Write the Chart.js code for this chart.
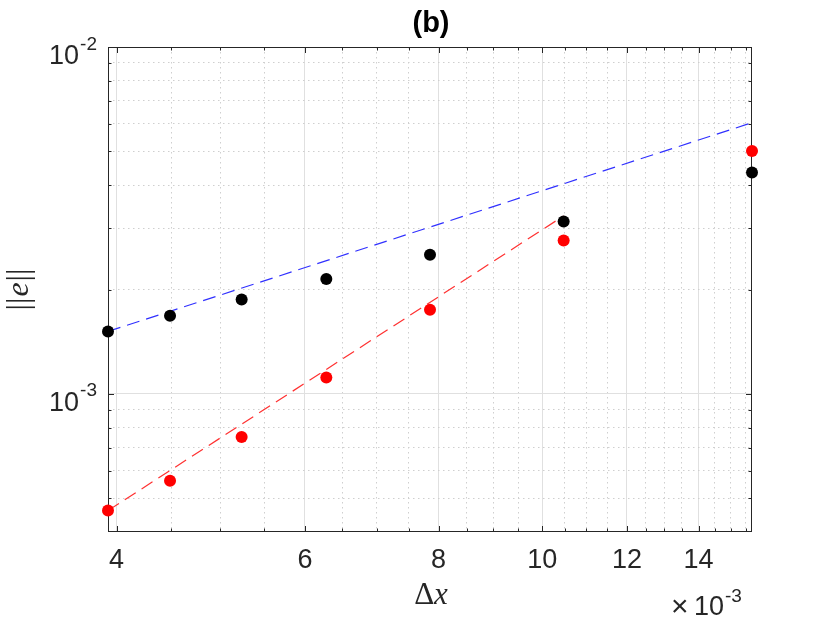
<!DOCTYPE html>
<html>
<head>
<meta charset="utf-8">
<title>(b)</title>
<script src="https://cdn.jsdelivr.net/npm/chart.js@4.4.1/dist/chart.umd.min.js"></script>
<style>
  html, body { margin: 0; padding: 0; background: #fff; }
  #wrap { width: 830px; height: 623px; }
</style>
</head>
<body>
<div id="wrap"><canvas id="errChart" width="830" height="623"></canvas></div>
<script>
// grid spacing (dx = 2*pi/N, N = 1600 ... 400) and measured errors
const dx = [0.003927, 0.004488, 0.005236, 0.006283, 0.007854, 0.010472, 0.015708];
const errBlack = [1.514e-3, 1.680e-3, 1.873e-3, 2.144e-3, 2.519e-3, 3.141e-3, 4.345e-3];
const errRed = [4.61e-4, 5.62e-4, 7.52e-4, 1.116e-3, 1.748e-3, 2.770e-3, 5.018e-3];

// reference slopes (first and second order), end points only
const refFirstX = [0.003927, 0.015708];
const refFirstY = [1.514e-3, 6.05e-3];
const refSecondX = [0.003927, 0.010472];
const refSecondY = [4.61e-4, 3.26e-3];

// ticks, x in units of 1e-3
const xTickValues = [4, 4.5, 5, 5.5, 6, 6.5, 7, 7.5, 8, 8.5, 9, 9.5, 10, 10.5, 11, 11.5, 12, 12.5, 13, 13.5, 14, 14.5, 15, 15.5];
const xTickLabels = ['4', '6', '8', '10', '12', '14'];
const yTickValues = [5e-4, 6e-4, 7e-4, 8e-4, 9e-4, 1e-3, 2e-3, 3e-3, 4e-3, 5e-3, 6e-3, 7e-3, 8e-3, 9e-3, 1e-2];
const yMajorValues = [1e-3, 1e-2];

const AXIS_COLOR = '#262626';
const SANS = '"Liberation Sans", Arial, Helvetica, sans-serif';
const SERIF = '"Liberation Serif", "DejaVu Serif", serif';

const toPoints = (xs, ys) => xs.map((v, i) => ({ x: v, y: ys[i] }));
const xIsMajor = v => xTickLabels.includes(String(Math.round(v * 1e4) / 10));
const yIsMajor = v => yMajorValues.some(m => Math.abs(m - v) / m < 1e-6);

function gridColor(isMajor) {
  return ctx => (ctx.tick && isMajor(ctx.tick.value)) ? '#e0e0e0' : '#cfcfcf';
}
function gridDash(isMajor) {
  return ctx => (ctx.tick && !isMajor(ctx.tick.value)) ? [1.5, 3.5] : [];
}

const matlabAxes = {
  id: 'matlabAxes',
  beforeDatasetsDraw(chart) {
    const { ctx, chartArea: a, scales: { x, y } } = chart;
    ctx.save();
    ctx.strokeStyle = AXIS_COLOR;
    ctx.lineWidth = 1;
    ctx.beginPath();
    x.ticks.forEach(t => {
      const px = Math.round(x.getPixelForValue(t.value)) + 0.5;
      const len = xIsMajor(t.value) ? 6 : 3.5;
      ctx.moveTo(px, a.bottom); ctx.lineTo(px, a.bottom - len);
      ctx.moveTo(px, a.top); ctx.lineTo(px, a.top + len);
    });
    y.ticks.forEach(t => {
      const py = Math.round(y.getPixelForValue(t.value)) + 0.5;
      const len = yIsMajor(t.value) ? 6 : 3.5;
      ctx.moveTo(a.left, py); ctx.lineTo(a.left + len, py);
      ctx.moveTo(a.right, py); ctx.lineTo(a.right - len, py);
    });
    ctx.stroke();
    ctx.strokeRect(Math.round(a.left) + 0.5, Math.round(a.top) + 0.5,
      Math.round(a.right - a.left) - 1, Math.round(a.bottom - a.top) - 1);
    ctx.restore();
  },
  afterDraw(chart) {
    const { ctx, chartArea: a, scales: { y } } = chart;
    ctx.save();
    ctx.fillStyle = AXIS_COLOR;
    ctx.textBaseline = 'alphabetic';

    // y tick labels 10^n
    y.ticks.filter(t => yIsMajor(t.value)).forEach(t => {
      const py = y.getPixelForValue(t.value);
      const exp = String(Math.round(Math.log10(t.value)));
      ctx.font = '19px ' + SANS;
      ctx.textAlign = 'right';
      const right = a.left - 11;
      ctx.fillText(exp, right, py + 2.5);
      const w = ctx.measureText(exp).width;
      ctx.font = '27px ' + SANS;
      ctx.fillText('10', right - w - 1, py + 16.7);
    });

    // exponent note under x axis
    ctx.textAlign = 'left';
    ctx.font = '30px ' + SANS;
    ctx.fillText('\u00d7', 671, 616);
    ctx.font = '27px ' + SANS;
    ctx.fillText('10', 694, 615);
    ctx.font = '19px ' + SANS;
    ctx.fillText('-3', 725, 601.5);

    // title
    ctx.fillStyle = '#000';
    ctx.textAlign = 'center';
    ctx.font = 'bold 29px ' + SANS;
    ctx.fillText('(b)', 431, 32);

    // x label: Delta x
    ctx.fillStyle = AXIS_COLOR;
    ctx.textAlign = 'left';
    ctx.font = '31px ' + SERIF;
    const dW = ctx.measureText('\u0394').width;
    ctx.font = 'italic 31px ' + SERIF;
    const xW = ctx.measureText('x').width;
    const x0 = 431 - (dW + xW) / 2;
    ctx.font = '31px ' + SERIF;
    ctx.fillText('\u0394', x0, 604);
    ctx.font = 'italic 31px ' + SERIF;
    ctx.fillText('x', x0 + dW, 604);

    // y label: ||e||
    ctx.translate(28, (a.top + a.bottom) / 2);
    ctx.rotate(-Math.PI / 2);
    ctx.font = '32px ' + SERIF;
    const barW = ctx.measureText('||').width;
    ctx.font = 'italic 32px ' + SERIF;
    const eW = ctx.measureText('e').width;
    let cx = -(2 * barW + eW + 2) / 2;
    ctx.font = '32px ' + SERIF;
    ctx.fillText('||', cx, 0);
    cx += barW + 1;
    ctx.font = 'italic 32px ' + SERIF;
    ctx.fillText('e', cx, 0);
    cx += eW + 1;
    ctx.font = '32px ' + SERIF;
    ctx.fillText('||', cx, 0);
    ctx.restore();
  }
};

new Chart(document.getElementById('errChart'), {
  type: 'scatter',
  data: {
    datasets: [
      {
        label: 'error (red)',
        data: toPoints(dx, errRed),
        pointRadius: 6,
        pointHoverRadius: 6,
        pointBorderWidth: 0,
        pointBackgroundColor: '#ff0000',
        clip: false
      },
      {
        label: 'error (black)',
        data: toPoints(dx, errBlack),
        pointRadius: 6,
        pointHoverRadius: 6,
        pointBorderWidth: 0,
        pointBackgroundColor: '#000000',
        clip: false
      },
      {
        label: 'second order',
        data: toPoints(refSecondX, refSecondY),
        showLine: true,
        pointRadius: 0,
        borderColor: '#ff3030',
        borderWidth: 1.2,
        borderDash: [13, 7]
      },
      {
        label: 'first order',
        data: toPoints(refFirstX, refFirstY),
        showLine: true,
        pointRadius: 0,
        borderColor: '#3030ff',
        borderWidth: 1.2,
        borderDash: [13, 7]
      }
    ]
  },
  options: {
    responsive: false,
    animation: false,
    events: [],
    layout: { padding: { top: 47, right: 78, left: 0, bottom: 0 } },
    plugins: {
      legend: { display: false },
      title: { display: false },
      tooltip: { enabled: false }
    },
    scales: {
      x: {
        type: 'logarithmic',
        min: dx[0],
        max: dx[dx.length - 1],
        afterBuildTicks: s => { s.ticks = xTickValues.map(v => ({ value: v * 1e-3 })); },
        afterFit: s => { s.height = 91; },
        grid: {
          drawTicks: false,
          color: gridColor(xIsMajor),
          lineWidth: 1
        },
        border: { display: false, dash: gridDash(xIsMajor) },
        ticks: {
          autoSkip: false,
          maxRotation: 0,
          minRotation: 0,
          padding: 12,
          color: AXIS_COLOR,
          font: { family: SANS, size: 27 },
          callback: v => xIsMajor(v) ? String(Math.round(v * 1e4) / 10) : ''
        }
      },
      y: {
        type: 'logarithmic',
        min: 4e-4,
        max: 1e-2,
        afterBuildTicks: s => { s.ticks = yTickValues.map(v => ({ value: v })); },
        afterFit: s => { s.width = 108; },
        grid: {
          drawTicks: false,
          color: gridColor(yIsMajor),
          lineWidth: 1
        },
        border: { display: false, dash: gridDash(yIsMajor) },
        ticks: { display: false }
      }
    }
  },
  plugins: [matlabAxes]
});
</script>
</body>
</html>
